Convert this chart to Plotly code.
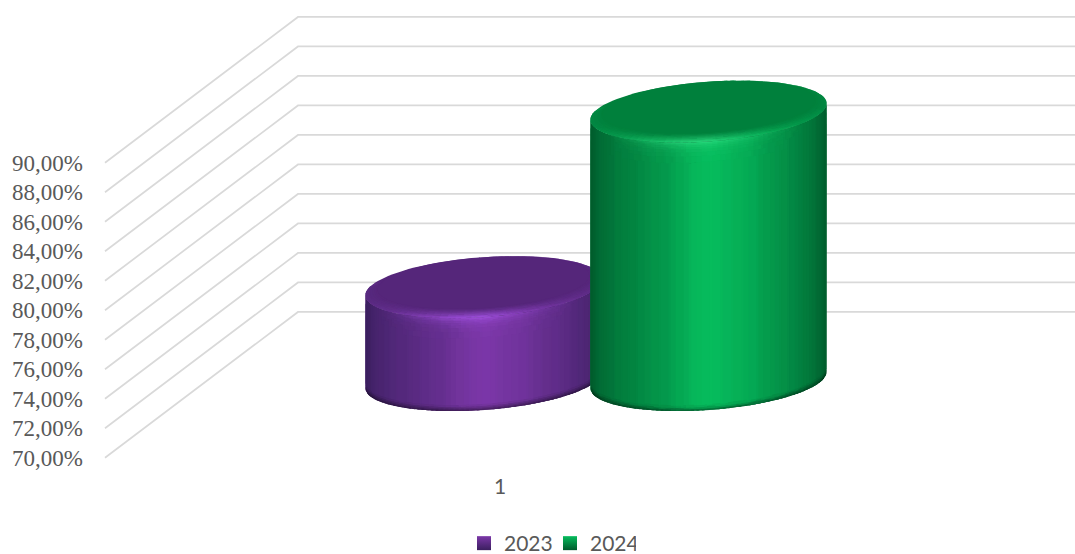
import math
import plotly.graph_objects as go

# ---- data ----
categories = ["1"]
series_names = ["2023", "2024"]
series_values = [76.3, 88.2]
y_ticks = [70, 72, 74, 76, 78, 80, 82, 84, 86, 88, 90]
y_tick_labels = ["70,00%", "72,00%", "74,00%", "76,00%", "78,00%", "80,00%",
                 "82,00%", "84,00%", "86,00%", "88,00%", "90,00%"]

# ---- style ----
W, H = 1075, 554
L, B = 84, 82
PX_PER_UNIT = 14.75            # pixels for 1 percentage point
Y0_PX = 457.7                  # pixel row of 70 % on the front edge
CAT_PX = 500                   # pixel column of the category
WALL_DX, WALL_DV = 193, 9.88   # oblique shift of the back wall
BAR_DEPTH = 0.533
BAR_SHIFT = [-119.4, 105.6]
RX, RDX, RDY = 114, 31, 32
GRID = "#d9d9d9"
TEXT = "#595959"
SERIF = "Liberation Serif"
PAL = [
    dict(dark="#3b1f5f", bright="#7b37a8", flat="#55267a", hi="#a452e4"),
    dict(dark="#005a2c", bright="#06bc5d", flat="#00803c", hi="#2ddc80"),
]
PROFILE = [(-1, 0.0), (-.9, .2), (-.72, .38), (-.4, .62), (-.1, .94), (0.02, 1), (.3, .85),
           (.6, .58), (.85, .32), (.95, .14), (1, 0.0)]
INNER_KX, INNER_KY, INNER_UP = 0.895, 0.85, 4.4


def rgb(h):
    return tuple(int(h[i:i + 2], 16) for i in (1, 3, 5))


def mix(a, b, k):
    return tuple(a[i] + (b[i] - a[i]) * k for i in range(3))


def prof(x):
    x = max(-1, min(1, x))
    for (a, fa), (b, fb) in zip(PROFILE, PROFILE[1:]):
        if x <= b:
            k = (x - a) / (b - a)
            k = k * k * (3 - 2 * k) * 0.5 + k * 0.5
            return fa + (fb - fa) * k
    return 0


def key(c, step=2):
    c = [min(255, max(0, round(v / step) * step)) for v in c]
    return "rgb(%d,%d,%d)" % tuple(c)


def add_poly(fig, pts, col):
    fig.add_trace(go.Scatter(x=[p[0] for p in pts], y=[p[1] for p in pts], mode="lines",
                             fill="toself", fillcolor=col, line=dict(width=0),
                             showlegend=False, hoverinfo="skip"))


def add_cells(fig, cells):
    """cells: list of (colour, polygon); grouped into one trace per colour."""
    groups = {}
    for col, poly in cells:
        g = groups.setdefault(key(col), ([], []))
        for x, y in poly + poly[:1]:
            g[0].append(x)
            g[1].append(y)
        g[0].append(None)
        g[1].append(None)
    for col, (xs, ys) in groups.items():
        fig.add_trace(go.Scatter(x=xs, y=ys, mode="lines", fill="toself", fillcolor=col,
                                 line=dict(width=0), showlegend=False, hoverinfo="skip"))


fig = go.Figure()

# walls: one polyline per tick, front edge -> back corner -> right edge
gx, gy = [], []
for t in y_ticks:
    gx += [-395, -395 + WALL_DX, 1075 - CAT_PX, None]
    gy += [t, t + WALL_DV, t + WALL_DV, None]
fig.add_trace(go.Scatter(x=gx, y=gy, mode="lines", line=dict(color=GRID, width=1.7),
                         showlegend=False, hoverinfo="skip"))

for i, (name, value) in enumerate(zip(series_names, series_values)):
    pal = PAL[i]
    dark, bright, flat, hi = rgb(pal["dark"]), rgb(pal["bright"]), rgb(pal["flat"]), rgb(pal["hi"])
    cx = BAR_SHIFT[i] + BAR_DEPTH * WALL_DX
    base = 70 + BAR_DEPTH * WALL_DV
    top = value + BAR_DEPTH * WALL_DV
    hpx = (top - base) * PX_PER_UNIT
    half = math.hypot(RX, RDX)

    # the value itself: legend key, hidden beneath the top face
    fig.add_trace(go.Scatter(x=[cx], y=[top], mode="markers", name=name,
                             marker=dict(symbol="square", size=14, color=pal["bright"],
                                         gradient=dict(type="vertical", color=pal["dark"]),
                                         line=dict(width=0))))

    def ell(t, v, kx=1.0, ky=1.0, sy=0.0):
        return (cx + kx * (RX * math.cos(t) + RDX * math.sin(t)),
                v + (sy + ky * RDY * math.sin(t) * 0.97) / PX_PER_UNIT)

    phi = math.atan2(RDX, RX)
    N = 70
    t_lo, t_hi = math.pi + phi, 2 * math.pi + phi
    ts = [t_lo + math.pi * j / N for j in range(N + 1)]
    rows = sorted(set([0, 1.5, 3, 5, 7, 10, 14, 20, max(21, hpx - 6), hpx - 4, hpx - 2.5, hpx - 1.2, hpx]))

    # solid underlay so that no seam lets the white page through
    under = [ell(t, top) for t in ts] + [ell(t, base) for t in reversed(ts)]
    add_poly(fig, under, pal["flat"])

    cells = []
    eps = 0.012
    for a, b in zip(rows, rows[1:]):
        m = (a + b) / 2
        below = hpx - m
        dk = 1.0
        if below < 6:
            dk = 0.5 + 0.5 * (below / 6) ** 0.7
        b2 = min(hpx, b + 0.7)
        for t0, t1 in zip(ts, ts[1:]):
            tm = (t0 + t1) / 2
            xn = (RX * math.cos(tm) + RDX * math.sin(tm)) / half
            c = mix(dark, bright, prof(xn))
            front = max(0, -math.sin(tm)) ** 2 * max(0, 1 - abs(xn) * 1.15)
            c = mix(c, hi, 0.9 * front * math.exp(-m / 5))
            c = mix((0, 0, 0), c, dk)
            v = lambda s: top - s / PX_PER_UNIT
            u0, u1 = max(t_lo, t0 - eps), min(t_hi, t1 + eps)
            cells.append((c, [ell(u0, v(a)), ell(u1, v(a)), ell(u1, v(b2)), ell(u0, v(b2))]))
    add_cells(fig, cells)

    # underlay of the whole top, then the rounded rim, then the flat face
    add_poly(fig, [ell(2 * math.pi * j / 120, top) for j in range(121)], pal["flat"])
    cells = []
    NT = 90
    NR = 7
    for j in range(NT):
        t0 = 2 * math.pi * j / NT - eps
        t1 = 2 * math.pi * (j + 1) / NT + eps
        tm = (t0 + t1) / 2
        xn = (RX * math.cos(tm) + RDX * math.sin(tm)) / half
        edge = mix(dark, bright, 0.3 + 0.7 * prof(xn * 0.85))
        if -math.sin(tm) > 0:
            edge = mix(edge, hi, 1.0 * (-math.sin(tm)) ** 3 * max(0, 1 - abs(xn) * 1.05))
        elif xn < 0:
            edge = mix(edge, bright, 0.3)
        else:
            edge = mix(edge, flat, 0.4)
        for r in range(NR):
            r0, r1 = r / NR, (r + 1) / NR
            c = mix(flat, edge, ((r0 + r1) / 2) ** 1.2)
            r1 = min(1, r1 + 0.05)
            pos = lambda q: (INNER_KX + (1 - INNER_KX) * q, INNER_KY + (1 - INNER_KY) * q, INNER_UP * (1 - q))
            p0, p1 = pos(r0), pos(r1)
            cells.append((c, [ell(t0, top, *p0), ell(t1, top, *p0), ell(t1, top, *p1), ell(t0, top, *p1)]))
    add_cells(fig, cells)
    add_poly(fig, [ell(2 * math.pi * j / 120, top, INNER_KX, INNER_KY, INNER_UP) for j in range(121)], pal["flat"])

plot_h = H - B
y_low = 70 - (plot_h - Y0_PX) / PX_PER_UNIT
y_high = 70 + Y0_PX / PX_PER_UNIT
fig.update_layout(
    width=W, height=H, margin=dict(l=L, r=0, t=0, b=B, autoexpand=False),
    paper_bgcolor="white", plot_bgcolor="white", separators=",.",
    font=dict(family=SERIF),
    xaxis=dict(range=[L - CAT_PX, W - CAT_PX], tickvals=[0], ticktext=categories, showgrid=False,
               zeroline=False, showline=False, ticks="", fixedrange=True,
               tickfont=dict(family="Lato", size=21, color=TEXT)),
    yaxis=dict(range=[y_low, y_high], tickvals=y_ticks, ticktext=y_tick_labels,
               showgrid=False, zeroline=False, showline=False, ticks="", fixedrange=True,
               tickfont=dict(family=SERIF, size=23, color=TEXT)),
    legend=dict(orientation="h", x=(464 - L) / (W - L), xanchor="left",
                y=(plot_h - 543.5) / plot_h, yanchor="middle", entrywidth=41, entrywidthmode="pixels",
                font=dict(family="Lato", size=21, color=TEXT), bgcolor="rgba(0,0,0,0)"),
    showlegend=True,
)
fig.write_html("out.html", config=dict(displayModeBar=False),
               post_script="document.body.style.margin='0';")
